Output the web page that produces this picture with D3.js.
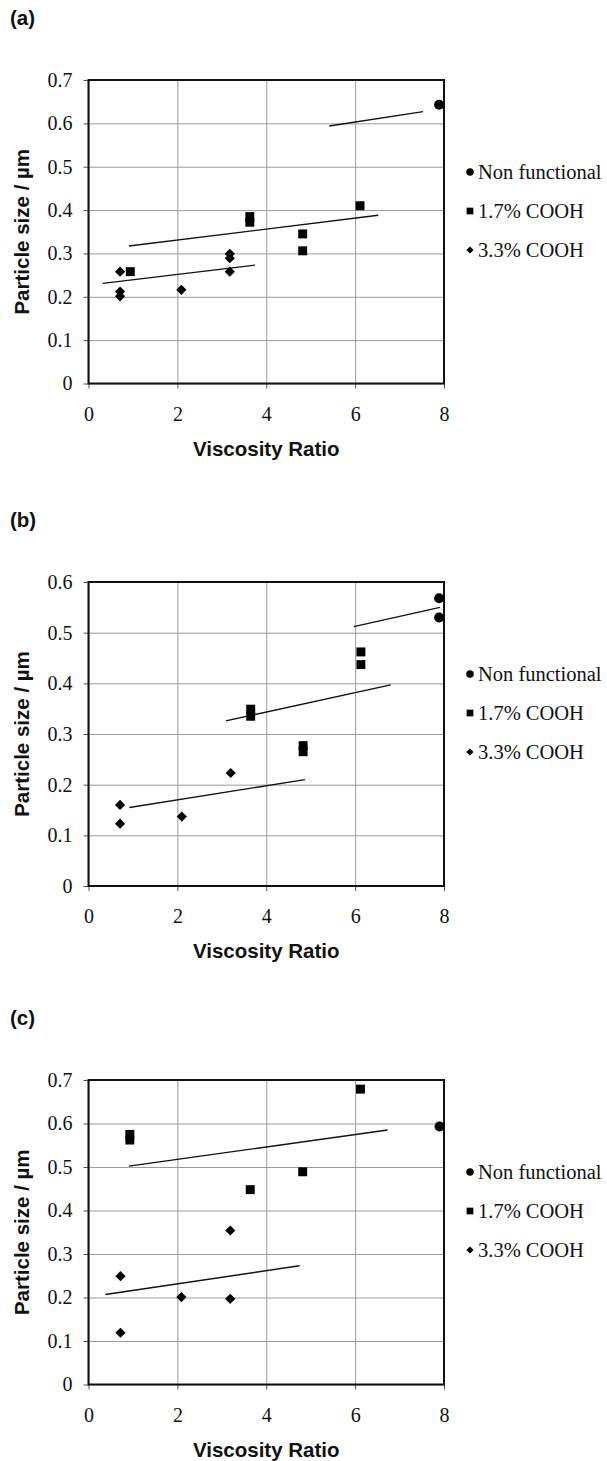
<!DOCTYPE html>
<html>
<head>
<meta charset="utf-8">
<script src="https://cdn.jsdelivr.net/npm/d3@7"></script>
<style>
  body { margin: 0; background: #fff; }
  .legend text { font-family: "Liberation Serif", "Times New Roman", serif; font-size: 20.5px; fill: #111; }
  .axis-title, .panel-label { font-family: "Liberation Sans", Arial, sans-serif; font-weight: bold; font-size: 20.5px; fill: #111; }
  .grid line { stroke: #9a9a9a; stroke-width: 1; }
  .grid .domain { display: none; }
</style>
</head>
<body>
<div id="chart"></div>
<script>
// x ticks shared by all panels
const xTicks = [0, 2, 4, 6, 8];
const seriesNames = ['Non functional', '1.7% COOH', '3.3% COOH'];

// panel (a)
const aNonFunctional = [[7.89, 0.643]];
const aCooh17 = [[0.94, 0.258], [3.63, 0.372], [3.63, 0.385], [4.82, 0.345], [4.82, 0.306], [6.11, 0.41]];
const aCooh33 = [[0.71, 0.258], [0.71, 0.212], [0.71, 0.201], [2.09, 0.216], [3.18, 0.299], [3.18, 0.289], [3.18, 0.258]];
// trend lines as [x1, y1, x2, y2]
const aTrends = [[5.42, 0.594, 7.53, 0.627], [0.91, 0.317, 6.52, 0.388], [0.32, 0.231, 3.75, 0.273]];
const aYTicks = [0, 0.1, 0.2, 0.3, 0.4, 0.5, 0.6, 0.7];

// panel (b)
const bNonFunctional = [[7.89, 0.568], [7.89, 0.530]];
const bCooh17 = [[3.65, 0.349], [3.65, 0.335], [4.83, 0.277], [4.83, 0.265], [6.13, 0.462], [6.13, 0.437]];
const bCooh33 = [[0.71, 0.16], [0.71, 0.123], [2.1, 0.137], [3.2, 0.223]];
const bTrends = [[5.97, 0.512, 7.91, 0.55], [3.09, 0.326, 6.8, 0.397], [0.92, 0.155, 4.87, 0.21]];
const bYTicks = [0, 0.1, 0.2, 0.3, 0.4, 0.5, 0.6];

// panel (c)
const cNonFunctional = [[7.9, 0.593]];
const cCooh17 = [[0.93, 0.575], [0.93, 0.562], [3.64, 0.448], [4.82, 0.489], [6.12, 0.679]];
const cCooh33 = [[0.72, 0.249], [0.72, 0.119], [2.09, 0.201], [3.19, 0.354], [3.19, 0.197]];
const cTrends = [[0.91, 0.502, 6.73, 0.585], [0.38, 0.207, 4.75, 0.273]];
const cYTicks = [0, 0.1, 0.2, 0.3, 0.4, 0.5, 0.6, 0.7];

const svg = d3.select('#chart').append('svg')
    .attr('width', 607)
    .attr('height', 1461);

// diamonds are squares turned 45 degrees
const markerType = {
  'Non functional': d3.symbolCircle,
  '1.7% COOH': d3.symbolSquare,
  '3.3% COOH': d3.symbolSquare
};
const markerRotate = { 'Non functional': 0, '1.7% COOH': 0, '3.3% COOH': 45 };
const markerSize = { 'Non functional': 80, '1.7% COOH': 80, '3.3% COOH': 52 };
const legendSize = { 'Non functional': 45, '1.7% COOH': 45, '3.3% COOH': 26 };

// serif tick labels, set inline so the axis defaults do not win
function styleTicks(a) {
  a.select('.domain').remove();
  a.selectAll('.tick line').attr('stroke', '#555');
  a.selectAll('.tick text')
      .style('font-family', '"Liberation Serif", "Times New Roman", serif')
      .style('font-size', '20px')
      .style('fill', '#111');
}

function drawPanel(cfg) {
  const left = 88.5, right = 444;
  const xScale = d3.scaleLinear().domain([0, 8]).range([left, right]);
  const yScale = d3.scaleLinear().domain([0, cfg.yMax]).range([cfg.bottom, cfg.top]);

  const g = svg.append('g');

  // panel letter
  g.append('text')
      .attr('class', 'panel-label')
      .attr('x', 10)
      .attr('y', cfg.top - 55)
      .text(cfg.label);

  // gridlines
  g.append('g')
      .attr('class', 'grid')
      .attr('transform', `translate(0,${cfg.bottom})`)
      .call(d3.axisBottom(xScale).tickValues(xTicks).tickSize(-(cfg.bottom - cfg.top)).tickFormat(''));
  g.append('g')
      .attr('class', 'grid')
      .attr('transform', `translate(${left},0)`)
      .call(d3.axisLeft(yScale).tickValues(cfg.yTicks).tickSize(-(right - left)).tickFormat(''));

  // axes with outer ticks and labels
  g.append('g')
      .attr('class', 'axis')
      .attr('transform', `translate(0,${cfg.bottom})`)
      .call(d3.axisBottom(xScale).tickValues(xTicks).tickSize(5).tickPadding(18).tickSizeOuter(0))
      .call(styleTicks);
  g.append('g')
      .attr('class', 'axis')
      .attr('transform', `translate(${left},0)`)
      .call(d3.axisLeft(yScale).tickValues(cfg.yTicks).tickSize(5).tickPadding(11).tickSizeOuter(0)
          .tickFormat(d => d === 0 ? '0' : d3.format('.1f')(d)))
      .call(styleTicks);

  // plot frame
  g.append('rect')
      .attr('x', left)
      .attr('y', cfg.top)
      .attr('width', right - left)
      .attr('height', cfg.bottom - cfg.top)
      .attr('fill', 'none')
      .attr('stroke', '#111')
      .attr('stroke-width', 2);

  // trend lines
  g.selectAll('.trend')
      .data(cfg.trends)
      .join('line')
      .attr('class', 'trend')
      .attr('x1', d => xScale(d[0]))
      .attr('y1', d => yScale(d[1]))
      .attr('x2', d => xScale(d[2]))
      .attr('y2', d => yScale(d[3]))
      .attr('stroke', '#111')
      .attr('stroke-width', 1.4);

  // points
  cfg.series.forEach((pts, i) => {
    const name = seriesNames[i];
    g.selectAll(null)
        .data(pts)
        .join('path')
        .attr('transform', d => `translate(${xScale(d[0])},${yScale(d[1])}) rotate(${markerRotate[name]})`)
        .attr('d', d3.symbol().type(markerType[name]).size(markerSize[name]))
        .attr('fill', '#000');
  });

  // legend
  const legend = g.append('g')
      .attr('class', 'legend')
      .attr('transform', `translate(470, ${cfg.top + 92})`);
  const item = legend.selectAll('.legend-item')
      .data(seriesNames)
      .join('g')
      .attr('class', 'legend-item')
      .attr('transform', (d, i) => `translate(0, ${i * 39})`);
  item.append('path')
      .attr('transform', d => `rotate(${markerRotate[d]})`)
      .attr('d', d => d3.symbol().type(markerType[d]).size(legendSize[d])())
      .attr('fill', '#000');
  item.append('text')
      .attr('x', 8)
      .attr('dy', '0.32em')
      .text(d => d);

  // axis titles
  g.append('text')
      .attr('class', 'axis-title')
      .attr('x', (left + right) / 2)
      .attr('y', cfg.bottom + 72)
      .attr('text-anchor', 'middle')
      .text('Viscosity Ratio');
  g.append('text')
      .attr('class', 'axis-title')
      .attr('text-anchor', 'middle')
      .attr('transform', `translate(29, ${(cfg.top + cfg.bottom) / 2}) rotate(-90)`)
      .text('Particle size / µm');
}

drawPanel({ label: '(a)', top: 80, bottom: 383.5, yMax: 0.7, yTicks: aYTicks,
  series: [aNonFunctional, aCooh17, aCooh33], trends: aTrends });
drawPanel({ label: '(b)', top: 582, bottom: 886, yMax: 0.6, yTicks: bYTicks,
  series: [bNonFunctional, bCooh17, bCooh33], trends: bTrends });
drawPanel({ label: '(c)', top: 1080, bottom: 1384.5, yMax: 0.7, yTicks: cYTicks,
  series: [cNonFunctional, cCooh17, cCooh33], trends: cTrends });
</script>
</body>
</html>
